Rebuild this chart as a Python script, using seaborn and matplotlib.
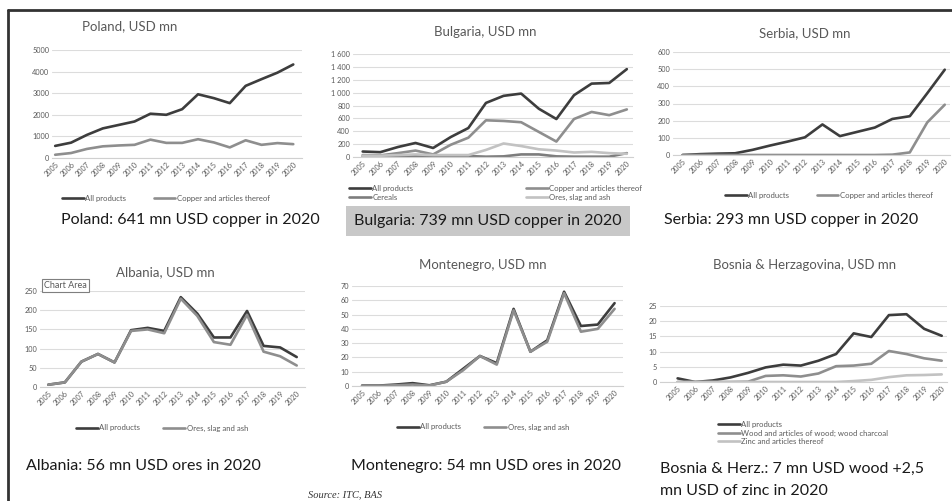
import numpy as np
import pandas as pd
import matplotlib
matplotlib.use("Agg")
import matplotlib.pyplot as plt
import seaborn as sns
from matplotlib.ticker import FuncFormatter

years = list(range(2005, 2021))

# Poland
pl_all = [560, 710, 1070, 1370, 1530, 1690, 2050, 2000, 2260, 2950, 2770, 2540, 3340, 3650, 3950, 4330]
pl_copper = [150, 230, 420, 540, 580, 610, 850, 700, 700, 870, 720, 490, 820, 610, 690, 641]

# Bulgaria
bg_all = [85, 75, 155, 218, 140, 310, 450, 840, 950, 985, 750, 590, 960, 1140, 1150, 1365]
bg_copper = [30, 25, 60, 100, 40, 190, 300, 570, 560, 540, 390, 240, 590, 700, 650, 739]
bg_cereals = [10, 10, 10, 10, 10, 20, 15, 5, 10, 40, 40, 10, 5, 5, 5, 60]
bg_ores = [20, 20, 30, 40, 30, 30, 30, 110, 210, 170, 120, 100, 70, 80, 60, 50]

# Serbia
rs_all = [0, 5, 8, 10, 30, 55, 78, 103, 178, 110, 135, 160, 210, 226, 360, 497]
rs_copper = [0, 0, 0, 0, 0, 0, 0, 0, 0, 0, 0, 0, 2, 15, 190, 293]

# Albania
al_all = [6, 12, 66, 86, 64, 148, 154, 146, 234, 191, 129, 129, 198, 107, 103, 78]
al_ores = [6, 12, 66, 86, 64, 146, 150, 140, 230, 185, 117, 110, 188, 92, 80, 56]

# Montenegro
me_all = [0.3, 0.3, 1, 2, 0.5, 3, 12, 21, 16, 54, 24, 32, 66, 42, 43, 58]
me_ores = [0.2, 0.2, 0.5, 1, 0.3, 3, 11, 21, 15, 53, 24, 31, 65, 38, 40, 54]

# Bosnia & Herzegovina
ba_all = [1.2, 0, 0.5, 1.5, 3, 4.8, 5.7, 5.4, 7, 9.2, 16, 14.8, 22, 22.3, 17.5, 15.2]
ba_wood = [0, 0, 0, 0, 0.1, 2, 2.2, 1.8, 2.8, 5.2, 5.4, 6, 10.2, 9.2, 7.8, 7]
ba_zinc = [0, 0, 0, 0, 0, 0, 0, 0, 0, 0, 0.3, 0.7, 1.6, 2.2, 2.3, 2.5]

W, H = 953, 501
DARK = "#3d3d3d"
MID = "#8e8e8e"
CER = "#7d7d7d"
LIGHT = "#c2c2c2"
TXT = "#595959"

sns.set_style("white")
plt.rcParams["font.family"] = ["Lato", "DejaVu Sans"]

fig = plt.figure(figsize=(W / 100, H / 100), dpi=100)


def fx(x):
    return x / W


def fy(y):
    return 1 - y / H


def panel(box, series, colors, ylim, step, xlim, title, title_xy,
          leg_xy, ncol=1, loc="center", colspace=2.0, fmt=None):
    x0, x1, ytop, ybot = box
    ax = fig.add_axes([fx(x0), fy(ybot), (x1 - x0) / W, (ybot - ytop) / H])
    frames = [pd.DataFrame({"year": years, "value": v, "series": k})
              for k, v in series.items()]
    df = pd.concat(frames)
    names = list(series.keys())
    sns.lineplot(data=df, x="year", y="value", hue="series", hue_order=names,
                 palette=colors, ax=ax, linewidth=1.9, legend=True)
    ax.set_xlim(*xlim)
    ax.set_ylim(*ylim)
    ax.set_yticks(np.arange(ylim[0], ylim[1] + step / 2, step))
    ax.set_xticks(years)
    ax.set_xticklabels([str(y) for y in years], rotation=45, ha="right",
                       rotation_mode="anchor")
    if fmt is not None:
        ax.yaxis.set_major_formatter(FuncFormatter(fmt))
    ax.tick_params(length=0, labelsize=5.3, labelcolor=TXT, pad=2)
    ax.yaxis.grid(True, color="#dcdcdc", lw=0.8)
    ax.set_axisbelow(True)
    for s in ["top", "right", "left"]:
        ax.spines[s].set_visible(False)
    ax.spines["bottom"].set_color("#d0d0d0")
    ax.spines["bottom"].set_linewidth(0.8)
    ax.set_xlabel("")
    ax.set_ylabel("")
    handles, labels = ax.get_legend_handles_labels()
    if ax.get_legend() is not None:
        ax.get_legend().remove()
    ax.legend(handles, labels, loc=loc, bbox_to_anchor=(fx(leg_xy[0]), fy(leg_xy[1])),
              bbox_transform=fig.transFigure, ncol=ncol, frameon=False,
              fontsize=5.6, labelcolor=TXT, handlelength=2.8, handletextpad=0.2,
              columnspacing=colspace, labelspacing=0.2, borderpad=0)
    fig.text(fx(title_xy[0]), fy(title_xy[1]), title, ha="center", va="center",
             fontsize=9.5, color=TXT)
    return ax


panel((52, 302, 50, 158), {"All products": pl_all, "Copper and articles thereof": pl_copper},
      [DARK, MID], (0, 5000), 1000, (2004.8, 2020.55), "Poland, USD mn", (130, 26),
      (166, 198), ncol=2, colspace=3.5)

panel((353, 633, 54, 157),
      {"All products": bg_all, "Cereals": bg_cereals,
       "Copper and articles thereof": bg_copper, "Ores, slag and ash": bg_ores},
      [DARK, CER, MID, LIGHT], (0, 1600), 200, (2004.45, 2020.35),
      "Bulgaria, USD mn", (485, 32), (345, 193), ncol=2, loc="center left",
      colspace=14.5, fmt=lambda v, p: f"{int(v):,}".replace(",", " "))

panel((673, 950, 52, 155), {"All products": rs_all, "Copper and articles thereof": rs_copper},
      [DARK, MID], (0, 600), 100, (2004.45, 2020.3), "Serbia, USD mn", (805, 33),
      (829, 195), ncol=2, colspace=3.5)

panel((40, 305, 291, 387), {"All products": al_all, "Ores, slag and ash": al_ores},
      [DARK, MID], (0, 250), 50, (2004.5, 2020.5), "Albania, USD mn", (165, 272),
      (162, 428), ncol=2, colspace=3.0)

panel((352, 623, 286, 386), {"All products": me_all, "Ores, slag and ash": me_ores},
      [DARK, MID], (0, 70), 10, (2004.4, 2020.5), "Montenegro, USD mn", (483, 265),
      (483, 427), ncol=2, colspace=3.0)

panel((660, 947, 306, 382),
      {"All products": ba_all, "Wood and articles of wood; wood charcoal": ba_wood,
       "Zinc and articles thereof": ba_zinc},
      [DARK, MID, LIGHT], (0, 25), 5, (2004.0, 2020.3),
      "Bosnia & Herzagovina, USD mn", (805, 265), (714, 433), loc="center left")

# "Chart Area" tooltip box
fig.text(fx(44), fy(285.5), "Chart Area", ha="left", va="center", fontsize=6.5,
         color=TXT, bbox=dict(boxstyle="square,pad=0.25", fc="white", ec="#7f7f7f", lw=0.8))

# captions
cap = dict(fontsize=11.5, color="#1a1a1a", va="center")
fig.text(fx(61), fy(220), "Poland: 641 mn USD copper in 2020", ha="left", **cap)
fig.text(fx(488), fy(221), "Bulgaria: 739 mn USD copper in 2020", ha="center",
         bbox=dict(boxstyle="square,pad=0.5", fc="#c8c8c8", ec="none"), **cap)
fig.text(fx(664), fy(220), "Serbia: 293 mn USD copper in 2020", ha="left", **cap)
fig.text(fx(26), fy(466), "Albania: 56 mn USD ores in 2020", ha="left", **cap)
fig.text(fx(351), fy(466), "Montenegro: 54 mn USD ores in 2020", ha="left", **cap)
fig.text(fx(660), fy(469), "Bosnia & Herz.: 7 mn USD wood +2,5", ha="left", **cap)
fig.text(fx(660), fy(491), "mn USD of zinc in 2020", ha="left", **cap)
fig.text(fx(308), fy(495), "Source: ITC, BAS", ha="left", va="center", fontsize=7.5,
         style="italic", family="Liberation Serif", color="#333333")

# outer frame (top and left edges)
fig.add_artist(plt.Line2D([fx(8), 1], [fy(10), fy(10)], color="#333333", lw=2,
                          transform=fig.transFigure))
fig.add_artist(plt.Line2D([fx(8), fx(8)], [fy(10), 0], color="#333333", lw=2,
                          transform=fig.transFigure))

fig.savefig("out.png", dpi=100, facecolor="white")
